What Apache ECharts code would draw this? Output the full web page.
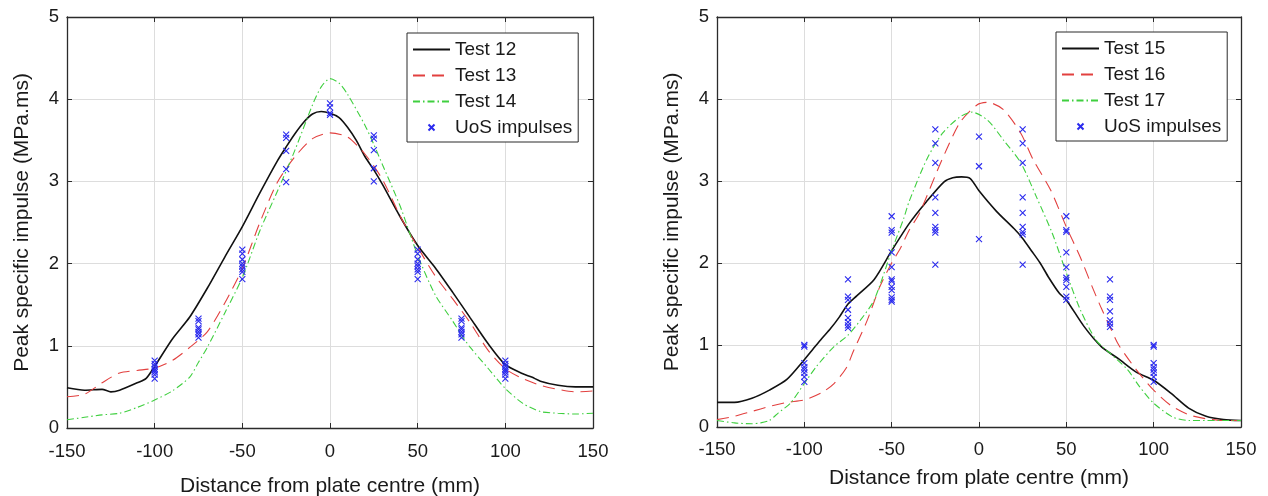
<!DOCTYPE html>
<html><head><meta charset="utf-8">
<script src="https://cdn.jsdelivr.net/npm/echarts@6/dist/echarts.min.js"></script>
<style>html,body{margin:0;padding:0;background:#fff}#c{width:1268px;height:496px}</style>
</head><body><div id="c"></div>
<script>
// ---- Data (x = distance from plate centre, mm ; y = peak specific impulse, MPa.ms)
const xTickValues = [-150, -100, -50, 0, 50, 100, 150];
const yTickValues = [0, 1, 2, 3, 4, 5];

const test12 = [[-150,0.49],[-140,0.46],[-130,0.47],[-125,0.44],[-120,0.46],[-110,0.55],[-105,0.6],[-100,0.75],[-90,1.08],[-80,1.35],[-70,1.7],[-60,2.08],[-50,2.45],[-40,2.86],[-30,3.25],[-25,3.42],[-20,3.58],[-15,3.72],[-10,3.82],[-5,3.85],[0,3.83],[5,3.78],[10,3.66],[15,3.5],[20,3.3],[25,3.14],[30,2.96],[40,2.57],[50,2.22],[60,1.95],[70,1.65],[80,1.34],[90,1.03],[100,0.77],[110,0.66],[115,0.62],[120,0.57],[130,0.52],[140,0.5],[150,0.5]];
const test13 = [[-150,0.38],[-140,0.41],[-130,0.55],[-120,0.67],[-110,0.7],[-100,0.73],[-90,0.82],[-80,0.98],[-70,1.17],[-60,1.52],[-50,1.94],[-40,2.5],[-30,2.99],[-20,3.3],[-10,3.52],[0,3.59],[10,3.54],[20,3.33],[30,3.02],[40,2.58],[50,2.2],[60,1.85],[70,1.57],[80,1.28],[90,0.95],[100,0.72],[110,0.6],[120,0.52],[130,0.47],[140,0.44],[150,0.45]];
const test14 = [[-150,0.1],[-140,0.13],[-130,0.16],[-120,0.18],[-110,0.25],[-100,0.34],[-90,0.45],[-80,0.62],[-75,0.8],[-70,0.98],[-60,1.4],[-50,1.83],[-40,2.4],[-30,2.88],[-20,3.38],[-10,3.93],[-5,4.15],[0,4.25],[5,4.2],[10,4.06],[20,3.68],[25,3.45],[30,3.2],[40,2.7],[50,2.1],[60,1.62],[70,1.3],[75,1.13],[80,0.98],[90,0.73],[100,0.48],[110,0.3],[120,0.2],[130,0.18],[140,0.17],[150,0.18]];
const uosLeft = [
  [-100,0.82],[-100,0.78],[-100,0.75],[-100,0.72],[-100,0.7],[-100,0.68],[-100,0.65],[-100,0.6],
  [-75,1.33],[-75,1.3],[-75,1.22],[-75,1.2],[-75,1.17],[-75,1.14],[-75,1.1],
  [-50,2.17],[-50,2.12],[-50,2.05],[-50,2.0],[-50,1.97],[-50,1.93],[-50,1.9],[-50,1.81],
  [-25,3.57],[-25,3.53],[-25,3.37],[-25,3.15],[-25,2.99],
  [0,3.95],[0,3.9],[0,3.83],[0,3.81],
  [25,3.56],[25,3.52],[25,3.38],[25,3.16],[25,3.0],
  [50,2.17],[50,2.12],[50,2.05],[50,2.0],[50,1.97],[50,1.93],[50,1.9],[50,1.81],
  [75,1.33],[75,1.3],[75,1.22],[75,1.2],[75,1.17],[75,1.14],[75,1.1],
  [100,0.82],[100,0.78],[100,0.75],[100,0.72],[100,0.7],[100,0.68],[100,0.65],[100,0.6]
];

const test15 = [[-150,0.3],[-140,0.3],[-130,0.35],[-120,0.45],[-110,0.58],[-100,0.82],[-95,0.95],[-90,1.08],[-85,1.2],[-80,1.34],[-75,1.5],[-70,1.6],[-60,1.8],[-50,2.15],[-40,2.48],[-30,2.75],[-20,2.99],[-15,3.04],[-10,3.05],[-5,3.03],[0,2.88],[10,2.63],[20,2.42],[25,2.3],[30,2.15],[35,2.0],[40,1.82],[46,1.63],[50,1.55],[60,1.23],[70,0.98],[80,0.83],[90,0.67],[100,0.57],[110,0.41],[120,0.23],[130,0.13],[140,0.09],[150,0.08]];
const test16 = [[-150,0.09],[-140,0.13],[-130,0.19],[-120,0.25],[-110,0.3],[-100,0.33],[-90,0.42],[-83,0.53],[-76,0.72],[-72,0.92],[-64,1.3],[-57,1.7],[-50,2.0],[-45,2.18],[-40,2.4],[-34,2.61],[-22,3.22],[-11,3.71],[-1,3.93],[5,3.96],[14,3.87],[24,3.58],[31,3.26],[41,2.89],[50,2.44],[58,2.07],[65,1.7],[70,1.45],[75,1.22],[80,1.0],[90,0.7],[100,0.45],[110,0.26],[120,0.15],[130,0.1],[140,0.08],[150,0.08]];
const test17 = [[-150,0.08],[-140,0.05],[-130,0.04],[-125,0.05],[-120,0.08],[-115,0.17],[-108,0.29],[-100,0.53],[-93,0.74],[-83,0.98],[-75,1.12],[-68,1.3],[-60,1.55],[-50,2.15],[-43,2.55],[-40,2.75],[-30,3.26],[-21,3.58],[-11,3.78],[-4,3.84],[5,3.74],[14,3.5],[24,3.22],[33,2.8],[42,2.36],[50,1.88],[58,1.43],[67,1.06],[75,0.9],[85,0.7],[92,0.49],[100,0.29],[111,0.12],[120,0.08],[150,0.08]];
const uosRight = [
  [-100,1.0],[-100,0.98],[-100,0.78],[-100,0.73],[-100,0.7],[-100,0.66],[-100,0.61],[-100,0.55],
  [-75,1.8],[-75,1.59],[-75,1.55],[-75,1.43],[-75,1.33],[-75,1.28],[-75,1.24],[-75,1.21],
  [-50,2.57],[-50,2.4],[-50,2.37],[-50,2.13],[-50,1.95],[-50,1.8],[-50,1.78],[-50,1.71],[-50,1.67],[-50,1.58],[-50,1.55],[-50,1.53],
  [-25,3.63],[-25,3.46],[-25,3.22],[-25,2.8],[-25,2.61],[-25,2.44],[-25,2.4],[-25,2.37],[-25,1.98],
  [0,3.54],[0,3.18],[0,2.29],
  [25,3.63],[25,3.46],[25,3.22],[25,2.8],[25,2.61],[25,2.44],[25,2.38],[25,2.35],[25,1.98],
  [50,2.57],[50,2.4],[50,2.38],[50,2.13],[50,1.95],[50,1.82],[50,1.79],[50,1.71],[50,1.59],[50,1.55],
  [75,1.8],[75,1.59],[75,1.55],[75,1.41],[75,1.3],[75,1.26],[75,1.22],
  [100,1.0],[100,0.98],[100,0.78],[100,0.73],[100,0.7],[100,0.66],[100,0.61],[100,0.55]
];

const legendLeft = ['Test 12', 'Test 13', 'Test 14', 'UoS impulses'];
const legendRight = ['Test 15', 'Test 16', 'Test 17', 'UoS impulses'];

// ---- Styling
const FONT = '"Liberation Sans", Arial, Helvetica, sans-serif';
const AX = '#2b2b2b';
const TXT = '#1a1a1a';
const GRIDC = '#dddddd';
const C_BLACK = '#111111', C_RED = '#e2403f', C_GREEN = '#3fcf3f', C_BLUE = '#2a2aee';
const XSYM = 'path://M0,0L10,10M10,0L0,10';
const XLEGEND = 'path://M0,0M37,14M15.5,4L21.5,10M21.5,4L15.5,10';

const xMin = xTickValues[0], xMax = xTickValues[xTickValues.length - 1];
const xInt = xTickValues[1] - xTickValues[0];
const yMin = yTickValues[0], yMax = yTickValues[yTickValues.length - 1];
const yInt = yTickValues[1] - yTickValues[0];

function xAxesFor(gi, nameGap, labelMargin) {
  return [
    { gridIndex: gi, type: 'value', min: xMin, max: xMax, interval: xInt, position: 'bottom',
      axisLine: { show: true, onZero: false, lineStyle: { color: AX, width: 1.3 } },
      axisTick: { show: true, inside: true, length: 5, lineStyle: { color: AX, width: 1 } },
      axisLabel: { color: TXT, fontSize: 18.5, margin: labelMargin, fontFamily: FONT },
      splitLine: { show: true, lineStyle: { color: GRIDC, width: 1 } },
      name: 'Distance from plate centre (mm)', nameLocation: 'middle', nameGap: nameGap,
      nameTextStyle: { color: TXT, fontSize: 21, fontFamily: FONT } },
    { gridIndex: gi, type: 'value', min: xMin, max: xMax, interval: xInt, position: 'top',
      axisLine: { show: true, onZero: false, lineStyle: { color: AX, width: 1.3 } },
      axisTick: { show: true, inside: true, length: 5, lineStyle: { color: AX, width: 1 } },
      axisLabel: { show: false }, splitLine: { show: false } }
  ];
}
function yAxesFor(gi, nameGap) {
  return [
    { gridIndex: gi, type: 'value', min: yMin, max: yMax, interval: yInt, position: 'left',
      axisLine: { show: true, onZero: false, lineStyle: { color: AX, width: 1.3 } },
      axisTick: { show: true, inside: true, length: 5, lineStyle: { color: AX, width: 1 } },
      axisLabel: { color: TXT, fontSize: 18.5, margin: 8, fontFamily: FONT },
      splitLine: { show: true, lineStyle: { color: GRIDC, width: 1 } },
      name: 'Peak specific impulse (MPa.ms)', nameLocation: 'middle', nameGap: nameGap,
      nameTextStyle: { color: TXT, fontSize: 21, fontFamily: FONT } },
    { gridIndex: gi, type: 'value', min: yMin, max: yMax, interval: yInt, position: 'right',
      axisLine: { show: true, onZero: false, lineStyle: { color: AX, width: 1.3 } },
      axisTick: { show: true, inside: true, length: 5, lineStyle: { color: AX, width: 1 } },
      axisLabel: { show: false }, splitLine: { show: false } }
  ];
}
function lineSeries(name, data, xi, yi, color, width, type) {
  return { name, type: 'line', data, xAxisIndex: xi, yAxisIndex: yi, symbol: 'none',
    smooth: 0.25, animation: false, z: 3,
    lineStyle: { color, width, type }, itemStyle: { color } };
}
function scatterSeries(name, data, xi, yi) {
  return { name, type: 'scatter', data, xAxisIndex: xi, yAxisIndex: yi, symbol: XSYM,
    symbolSize: 6, animation: false, z: 4,
    itemStyle: { color: 'rgba(0,0,0,0)', borderColor: C_BLUE, borderWidth: 1.1, opacity: 1 } };
}
function legendFor(names, left, top) {
  return { orient: 'vertical', left, top, itemWidth: 37, itemHeight: 14, itemGap: 7,
    padding: [7, 6, 5, 5], borderColor: AX, borderWidth: 1, backgroundColor: '#fff',
    selectedMode: false, textStyle: { color: TXT, fontSize: 19, fontFamily: FONT },
    data: names.map(n => n === 'UoS impulses'
      ? { name: n, icon: XLEGEND }
      : { name: n, itemStyle: { opacity: 0 } }) };
}

const option = {
  backgroundColor: '#fff',
  animation: false,
  textStyle: { fontFamily: FONT },
  grid: [
    { left: 67, right: 1268 - 593, top: 17, bottom: 496 - 428, outerBoundsMode: 'none', containLabel: false },
    { left: 717, right: 1268 - 1241, top: 17, bottom: 496 - 427, outerBoundsMode: 'none', containLabel: false }
  ],
  xAxis: [...xAxesFor(0, 48, 14), ...xAxesFor(1, 41, 13)],
  yAxis: [...yAxesFor(0, 34), ...yAxesFor(1, 34)],
  legend: [legendFor(legendLeft, 407, 33), legendFor(legendRight, 1056, 32)],
  series: [
    lineSeries('Test 12', test12, 0, 0, C_BLACK, 1.6, 'solid'),
    lineSeries('Test 13', test13, 0, 0, C_RED, 1.1, [12, 7]),
    lineSeries('Test 14', test14, 0, 0, C_GREEN, 1.1, [7, 3, 1.5, 3]),
    scatterSeries('UoS impulses', uosLeft, 0, 0),
    lineSeries('Test 15', test15, 2, 2, C_BLACK, 1.6, 'solid'),
    lineSeries('Test 16', test16, 2, 2, C_RED, 1.1, [12, 7]),
    lineSeries('Test 17', test17, 2, 2, C_GREEN, 1.1, [7, 3, 1.5, 3]),
    scatterSeries('UoS impulses', uosRight, 2, 2)
  ]
};
const chart = echarts.init(document.getElementById('c'), null, { renderer: 'canvas' });
chart.setOption(option);
</script></body></html>
